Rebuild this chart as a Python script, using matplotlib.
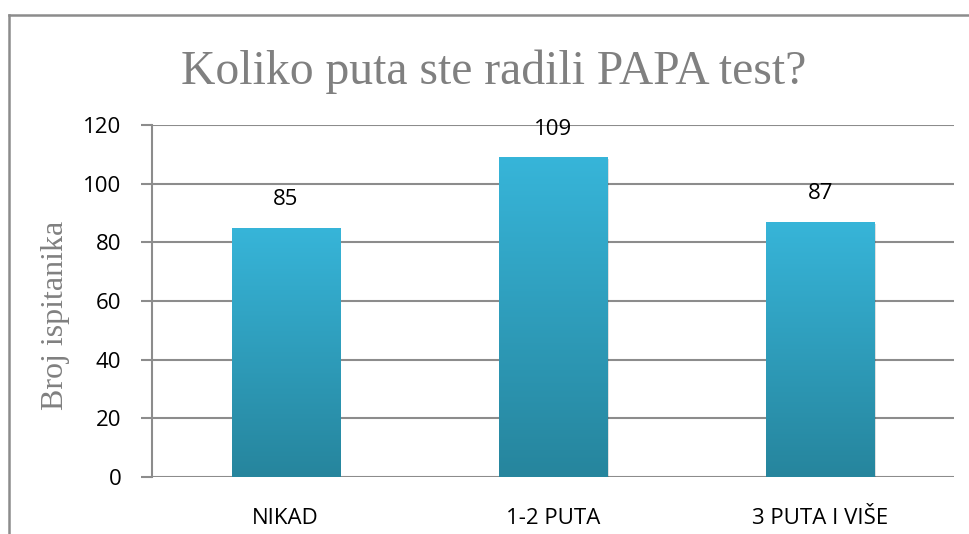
import matplotlib
matplotlib.use("Agg")
import matplotlib.pyplot as plt
import numpy as np
from matplotlib.patches import Rectangle
from matplotlib.colors import LinearSegmentedColormap

categories = ["NIKAD", "1-2 PUTA", "3 PUTA I VIŠE"]
values = [85, 109, 87]
yticks = [0, 20, 40, 60, 80, 100, 120]
title = "Koliko puta ste radili PAPA test?"
ylabel = "Broj ispitanika"

W, H = 969, 534
fig = plt.figure(figsize=(W / 100, H / 100), dpi=100)
fig.patch.set_facecolor("white")

# outer frame (left + top visible)
fig.add_artist(plt.Line2D([9 / W, 9 / W], [0, 1 - 15 / H], transform=fig.transFigure, color="#8c8c8c", lw=1.8))
fig.add_artist(plt.Line2D([9 / W, 1], [1 - 15 / H, 1 - 15 / H], transform=fig.transFigure, color="#8c8c8c", lw=1.8))

ax_l, ax_r, ax_t, ax_b = 152, 954, 125, 477
ax = fig.add_axes([ax_l / W, 1 - ax_b / H, (ax_r - ax_l) / W, (ax_b - ax_t) / H])
ax.set_xlim(-0.5, len(categories) - 0.5)
ax.set_ylim(0, 120)

x = np.arange(len(categories))
bw = 0.405
cmap = LinearSegmentedColormap.from_list("g", ["#26859d", "#37b5d9"])
grad = np.linspace(0, 1, 256).reshape(-1, 1)

for xi, v in zip(x, values):
    # soft shadow
    sh = Rectangle((xi - bw / 2 + 0.006, -0.6), bw, v, facecolor="#000000", alpha=0.12, lw=0, zorder=2)
    ax.add_patch(sh)
    bars = ax.bar([xi], [v], width=bw, color="#2fa2c2", zorder=3, lw=0)
    patch = bars[0]
    im = ax.imshow(grad, cmap=cmap, aspect="auto", origin="lower",
                   extent=[xi - bw / 2, xi + bw / 2, 0, v], zorder=4)
    im.set_clip_path(patch)
    ax.text(xi, v + 6.0, str(v), ha="center", va="bottom", fontsize=16,
            family="Open Sans", color="black")

ax.set_xlim(-0.5, len(categories) - 0.5)
ax.set_ylim(0, 120)
ax.set_yticks(yticks)
ax.set_yticklabels([str(t) for t in yticks], family="Open Sans", fontsize=16)
ax.set_xticks(x)
ax.set_xticklabels(categories, family="Open Sans", fontsize=16)
ax.yaxis.grid(True, color="#8c8c8c", lw=1.5, zorder=0)
ax.set_axisbelow(True)
for s in ["top", "right", "bottom"]:
    ax.spines[s].set_visible(False)
ax.spines["left"].set_color("#8c8c8c")
ax.spines["left"].set_linewidth(1.5)
ax.tick_params(axis="y", length=8, width=1.5, color="#8c8c8c", pad=14)
ax.tick_params(axis="x", length=0, pad=22)

fig.text(494 / W, 1 - 72 / H, title, ha="center", va="center",
         family="Liberation Serif", fontsize=34.3, color="#808080")
fig.text(55 / W, 1 - 315 / H, ylabel, ha="center", va="center", rotation=90,
         family="Liberation Serif", fontsize=23, color="#808080")

fig.savefig("out.png", dpi=100, facecolor="white")
